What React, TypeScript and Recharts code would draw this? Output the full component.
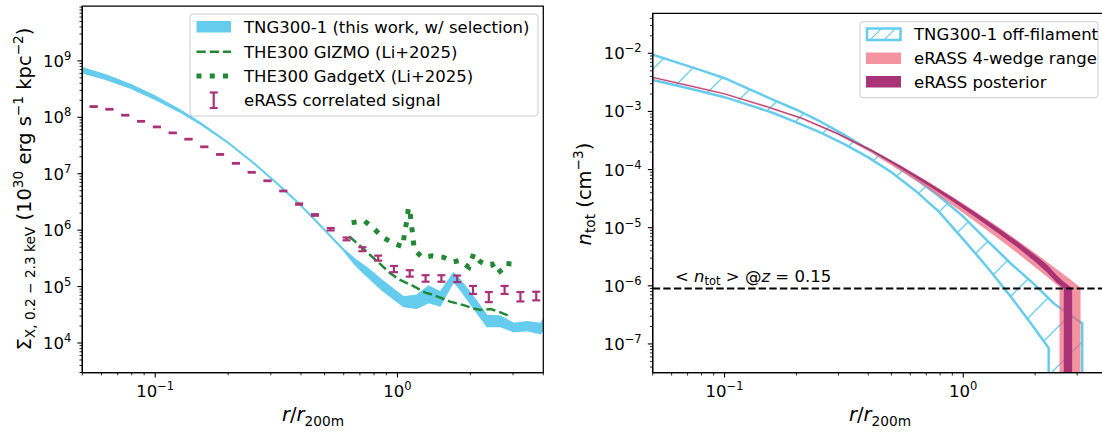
import React from 'react';
import {
  ComposedChart, XAxis, YAxis, Area, Line, Scatter, ErrorBar, ReferenceLine, ReferenceArea,
} from 'recharts';

const FONT = "'DejaVu Sans', 'Liberation Sans', sans-serif";
const BLUE = '#66CCEE';
const GREEN = '#228833';
const PINK = '#EE6677';
const PURPLE = '#AA3377';
const FLOOR = 1e-9; // value below the visible range, used where a band drops off the axis

// ---------------- Left panel: X-ray surface brightness ----------------
const tngSelR = [0.05, 0.0625, 0.0794, 0.1, 0.126, 0.153, 0.2, 0.251, 0.316, 0.395, 0.5, 0.6, 0.668, 0.75, 0.862, 1.059, 1.203, 1.344, 1.502, 1.705, 1.818, 2.063, 2.344, 2.662, 3.02, 3.43, 3.9, 4.02];
const tngSelLo = [6.1e8, 4.7e8, 3.24e8, 2.08e8, 1.25e8, 7.6e7, 3.46e7, 1.59e7, 6.8e6, 2.82e6, 9.8e5, 4.3e5, 2.42e5, 1.5e5, 8.7e4, 4.4e4, 4.1e4, 5.2e4, 4.5e4, 1.22e5, 8.7e4, 4.1e4, 1.95e4, 1.95e4, 1.58e4, 1.65e4, 1.45e4, 1.82e4];
const tngSelHi = [7.6e8, 5.65e8, 3.8e8, 2.39e8, 1.38e8, 8.15e7, 3.62e7, 1.67e7, 7.1e6, 2.95e6, 1.04e6, 4.6e5, 3.08e5, 2.15e5, 1.31e5, 6.6e4, 7.1e4, 1.03e5, 8.1e4, 1.76e5, 1.31e5, 6.6e4, 3.1e4, 3.0e4, 2.23e4, 2.39e4, 2.23e4, 2.74e4];

const gizmoR = [0.633, 0.7, 0.771, 0.85, 0.933, 1.026, 1.165, 1.302, 1.41, 1.652, 1.876, 2.063, 2.2, 2.42, 2.66, 2.93];
const gizmoS = [7.7e5, 5.3e5, 3.63e5, 2.5e5, 1.72e5, 1.31e5, 1.02e5, 7.8e4, 7.1e4, 5.4e4, 4.7e4, 4.1e4, 3.85e4, 4.0e4, 3.5e4, 2.95e4];

const gadgetR = [0.647, 0.73, 0.796, 0.87, 0.957, 1.053, 1.069, 1.094, 1.11, 1.125, 1.14, 1.158, 1.172, 1.262, 1.392, 1.55, 1.705, 1.805, 1.97, 2.063, 2.2, 2.34, 2.46, 2.58, 2.75, 2.88, 2.9];
const gadgetS = [1.36e6, 1.46e6, 1.08e6, 7.5e5, 5.9e5, 5.1e5, 8.8e5, 1.48e6, 2.5e6, 2.3e6, 1.32e6, 7.9e5, 4.6e5, 3.3e5, 3.5e5, 3.3e5, 2.75e5, 2.9e5, 2.2e5, 3.8e5, 2.75e5, 2.4e5, 2.5e5, 1.72e5, 2.1e5, 2.2e5, 3.6e5];

const erassR = [0.0557, 0.0647, 0.0752, 0.0874, 0.1016, 0.1181, 0.1372, 0.1594, 0.1853, 0.2153, 0.2502, 0.2908, 0.3379, 0.3927, 0.4564, 0.5304, 0.6164, 0.7164, 0.8325, 0.9674, 1.124, 1.3066, 1.5184, 1.7645, 2.0506, 2.383, 2.769, 3.218, 3.74];
const erassS = [1.55e8, 1.39e8, 1.09e8, 8.5e7, 6.76e7, 5.3e7, 4.1e7, 3.0e7, 2.2e7, 1.53e7, 1.06e7, 7.5e6, 4.95e6, 2.9e6, 1.86e6, 1.04e6, 7.0e5, 4.6e5, 3.2e5, 2.05e5, 1.72e5, 1.4e5, 1.4e5, 1.38e5, 8.7e4, 6.5e4, 8.7e4, 6.6e4, 6.8e4];
const erassErrLo = [1.9e6, 1.7e6, 1.3e6, 1.0e6, 8e5, 6.4e5, 4.9e5, 3.6e5, 2.6e5, 1.8e5, 1.3e5, 9e4, 6e4, 7e4, 6e4, 5e4, 4e4, 3.6e4, 3.2e4, 2.5e4, 2.2e4, 1.8e4, 1.8e4, 1.8e4, 1.3e4, 1.2e4, 1.3e4, 1.15e4, 1.1e4];
const erassErrHi = [1.9e6, 1.7e6, 1.3e6, 1.0e6, 8e5, 6.4e5, 4.9e5, 3.6e5, 2.6e5, 1.8e5, 1.3e5, 9e4, 6e4, 7e4, 6e4, 5e4, 4e4, 3.8e4, 3.4e4, 2.7e4, 2.3e4, 1.9e4, 1.9e4, 1.9e4, 1.55e4, 1.5e4, 1.55e4, 1.4e4, 1.3e4];

// ---------------- Right panel: density ----------------
const offFilR = [0.05, 0.063, 0.0794, 0.1, 0.126, 0.16, 0.2, 0.25, 0.316, 0.4, 0.5, 0.63, 0.79, 1.0, 1.26, 1.585, 1.995, 2.279, 2.279, 2.392, 3.15, 3.15];
const offFilLo = [3.47e-3, 2.79e-3, 2.23e-3, 1.76e-3, 1.3e-3, 9.4e-4, 6.5e-4, 4.39e-4, 2.77e-4, 1.62e-4, 9.0e-5, 4.34e-5, 1.89e-5, 6.3e-6, 2.09e-6, 6.45e-7, 1.82e-7, 8.5e-8, FLOOR, FLOOR, FLOOR, FLOOR];
const offFilHi = [9.5e-3, 7.0e-3, 5.15e-3, 3.73e-3, 2.45e-3, 1.58e-3, 1.07e-3, 6.84e-4, 3.98e-4, 2.24e-4, 1.34e-4, 7.0e-5, 3.5e-5, 1.55e-5, 6.0e-6, 2.4e-6, 1.04e-6, 6.07e-7, 6.07e-7, 4.98e-7, 2.25e-7, FLOOR];

const wedgeR = [0.05, 0.0762, 0.1, 0.15, 0.211, 0.296, 0.414, 0.55, 0.701, 0.9, 1.1, 1.4, 1.678, 2.0, 2.244, 2.53, 2.53, 2.75, 3.1, 3.1];
const wedgeLo = [3.72e-3, 2.5e-3, 1.93e-3, 1.16e-3, 7.3e-4, 4.0e-4, 1.92e-4, 9.3e-5, 4.89e-5, 2.43e-5, 1.35e-5, 6.52e-6, 3.69e-6, 2.09e-6, 1.43e-6, 9.5e-7, FLOOR, FLOOR, FLOOR, FLOOR];
const wedgeHi = [4.0e-3, 2.7e-3, 2.07e-3, 1.26e-3, 7.9e-4, 4.4e-4, 2.22e-4, 1.16e-4, 6.48e-5, 3.44e-5, 2.02e-5, 1.035e-5, 6.15e-6, 3.66e-6, 2.58e-6, 1.78e-6, 1.78e-6, 1.37e-6, 9.3e-7, FLOOR];

const postR = [0.05, 0.1, 0.15, 0.211, 0.296, 0.414, 0.55, 0.701, 0.9, 1.1, 1.4, 1.678, 2.0, 2.244, 2.47, 2.636, 2.636, 2.858, 2.858];
const postLo = [3.8e-3, 1.97e-3, 1.19e-3, 7.45e-4, 4.1e-4, 2.05e-4, 1.03e-4, 5.55e-5, 2.84e-5, 1.62e-5, 8.0e-6, 4.65e-6, 2.6e-6, 1.7e-6, 1.12e-6, 9.1e-7, FLOOR, FLOOR, FLOOR];
const postHi = [3.92e-3, 2.03e-3, 1.23e-3, 7.75e-4, 4.3e-4, 2.19e-4, 1.14e-4, 6.3e-5, 3.32e-5, 1.94e-5, 9.9e-6, 5.85e-6, 3.4e-6, 2.3e-6, 1.5e-6, 1.18e-6, 1.18e-6, 9.1e-7, FLOOR];

const meanDensity = 9.0e-7;

// ---------------- Axes ----------------
const xDomain: [number, number] = [0.05, 4];
const leftYDomain: [number, number] = [3000, 9.4e9];
const rightYDomain: [number, number] = [3.2e-8, 4.88e-2];
const xTicks = [0.05, 0.06, 0.07, 0.08, 0.09, 0.1, 0.2, 0.3, 0.4, 0.5, 0.6, 0.7, 0.8, 0.9, 1, 2, 3, 4];
const leftDecades = [1e3, 1e4, 1e5, 1e6, 1e7, 1e8, 1e9];
const rightDecades = [1e-8, 1e-7, 1e-6, 1e-5, 1e-4, 1e-3, 1e-2];
const multipliers = [1, 2, 3, 4, 5, 6, 7, 8, 9];

const logTicks = (decades: number[], dom: [number, number]) => {
  const out: number[] = [];
  decades.forEach((d) => multipliers.forEach((m) => {
    const v = Number((d * m).toPrecision(6));
    if (v >= dom[0] * 0.999 && v <= dom[1] * 1.001) out.push(v);
  }));
  return out;
};
const leftYTicks = logTicks(leftDecades, leftYDomain);
const rightYTicks = logTicks(rightDecades, rightYDomain);

const isMajor = (v: number) => {
  const l = Math.log10(v);
  return Math.abs(l - Math.round(l)) < 1e-6;
};
const expStr = (v: number) => {
  const e = Math.round(Math.log10(v));
  return e < 0 ? '\u2212' + String(-e) : String(e);
};

const XTick = (props: any) => {
  const { x, y, payload } = props;
  const v = payload.value;
  const M = isMajor(v);
  return (
    <g>
      <line x1={x} x2={x} y1={y} y2={y + (M ? 4.9 : 2.8)} stroke="#000" strokeWidth={M ? 1.1 : 0.85} />
      {M && (
        <text x={x} y={y + 24.5} textAnchor="middle" fontFamily={FONT} fontSize={16.5} fill="#000">
          10<tspan dy={-7} fontSize={11.5}>{expStr(v)}</tspan>
        </text>
      )}
    </g>
  );
};

const YTick = (props: any) => {
  const { x, y, payload } = props;
  const v = payload.value;
  const M = isMajor(v);
  return (
    <g>
      <line x1={x} x2={x - (M ? 4.9 : 2.8)} y1={y} y2={y} stroke="#000" strokeWidth={M ? 1.1 : 0.85} />
      {M && (
        <text x={x - 11} y={y + 6} textAnchor="end" fontFamily={FONT} fontSize={16.5} fill="#000">
          10<tspan dy={-7} fontSize={11.5}>{expStr(v)}</tspan>
        </text>
      )}
    </g>
  );
};

const band = (d: any) => [d.lo, d.hi];

const tngSelRows = tngSelR.map((r, i) => ({ x: r, lo: tngSelLo[i], hi: tngSelHi[i] }));
const gizmoRows = gizmoR.map((r, i) => ({ x: r, y: gizmoS[i] }));
const gadgetRows = gadgetR.map((r, i) => ({ x: r, y: gadgetS[i] }));
const erassRows = erassR.map((r, i) => ({ x: r, y: erassS[i], err: [erassErrLo[i], erassErrHi[i]] }));
const offFilRows = offFilR.map((r, i) => ({ x: r, lo: offFilLo[i], hi: offFilHi[i] }));
const wedgeRows = wedgeR.map((r, i) => ({ x: r, lo: wedgeLo[i], hi: wedgeHi[i] }));
const postRows = postR.map((r, i) => ({ x: r, lo: postLo[i], hi: postHi[i] }));

const NoShape = () => <g />;

const LeftChart = () => (
  <ComposedChart width={560} height={432} margin={{ top: 6, right: 16.7, bottom: 0, left: 0 }}>
    <XAxis dataKey="x" type="number" scale="log" domain={xDomain} allowDataOverflow ticks={xTicks} interval={0}
      tickSize={0} tickMargin={0} tickLine={false} tick={<XTick />} axisLine={{ stroke: '#000', strokeWidth: 1.25 }} height={59.5} />
    <YAxis type="number" scale="log" domain={leftYDomain} allowDataOverflow ticks={leftYTicks} interval={0}
      tickSize={0} tickMargin={0} tickLine={false} tick={<YTick />} axisLine={{ stroke: '#000', strokeWidth: 1.25 }} width={82.3} />
    <Area data={tngSelRows} dataKey={band} type="linear" fill={BLUE} fillOpacity={1} stroke={BLUE} strokeWidth={1.2}
      isAnimationActive={false} dot={false} activeDot={false} />
    <Line data={gizmoRows} dataKey="y" type="linear" stroke={GREEN} strokeWidth={2.5} strokeDasharray="9.25 4"
      dot={false} activeDot={false} isAnimationActive={false} />
    <Line data={gadgetRows} dataKey="y" type="linear" stroke={GREEN} strokeWidth={5} strokeDasharray="5 8.25"
      strokeLinecap="butt" dot={false} activeDot={false} isAnimationActive={false} />
    <Scatter data={erassRows} dataKey="y" fill={PURPLE} shape={<NoShape />} isAnimationActive={false}>
      <ErrorBar dataKey="err" direction="y" width={4} strokeWidth={2.2} stroke={PURPLE} isAnimationActive={false} />
    </Scatter>
    <ReferenceArea x1={xDomain[0]} x2={xDomain[1]} y1={leftYDomain[0]} y2={leftYDomain[1]} fill="none" fillOpacity={0}
      stroke="#000" strokeWidth={1.25} />
  </ComposedChart>
);

const RightChart = () => (
  <ComposedChart width={560} height={432} margin={{ top: 13.3, right: 13, bottom: 0, left: 0 }}>
    <defs>
      <pattern id="hatchR" patternUnits="userSpaceOnUse" width={39} height={39} patternTransform="translate(6,0)">
        <path d="M-2,41 L41,-2 M-2,2 L2,-2 M37,41 L41,37" stroke={BLUE} strokeWidth={1.3} fill="none" />
      </pattern>
    </defs>
    <XAxis dataKey="x" type="number" scale="log" domain={xDomain} allowDataOverflow ticks={xTicks} interval={0}
      tickSize={0} tickMargin={0} tickLine={false} tick={<XTick />} axisLine={{ stroke: '#000', strokeWidth: 1.25 }} height={59.3} />
    <YAxis type="number" scale="log" domain={rightYDomain} allowDataOverflow ticks={rightYTicks} interval={0}
      tickSize={0} tickMargin={0} tickLine={false} tick={<YTick />} axisLine={{ stroke: '#000', strokeWidth: 1.25 }} width={92.7} />
    <Area data={offFilRows} dataKey={band} type="linear" fill="url(#hatchR)" fillOpacity={1} stroke={BLUE} strokeWidth={2.5}
      isAnimationActive={false} dot={false} activeDot={false} />
    <Area data={wedgeRows} dataKey={band} type="linear" fill={PINK} fillOpacity={0.7} stroke="none"
      isAnimationActive={false} dot={false} activeDot={false} />
    <Area data={postRows} dataKey={band} type="linear" fill={PURPLE} fillOpacity={1} stroke="none"
      isAnimationActive={false} dot={false} activeDot={false} />
    <ReferenceLine y={meanDensity} stroke="#000" strokeWidth={2} strokeDasharray="7.4 3.2" ifOverflow="visible" />
    <ReferenceArea x1={xDomain[0]} x2={xDomain[1]} y1={rightYDomain[0]} y2={rightYDomain[1]} fill="none" fillOpacity={0}
      stroke="#000" strokeWidth={1.25} />
  </ComposedChart>
);

const Overlay = () => (
  <svg width={1102} height={432} style={{ position: 'absolute', left: 0, top: 0, pointerEvents: 'none' }}
    fontFamily={FONT}>
    <defs>
      <pattern id="hatchLeg" patternUnits="userSpaceOnUse" width={14} height={14}>
        <path d="M-2,16 L16,-2 M-2,2 L2,-2 M12,16 L16,12" stroke={BLUE} strokeWidth={1.2} fill="none" />
      </pattern>
    </defs>
    {/* Left axis titles */}
    <text transform="translate(31,189) rotate(-90)" textAnchor="middle" fontSize={19.5} fill="#000">
      Σ<tspan fontSize={13.7} dy={4}>X, 0.2 − 2.3 keV</tspan>
      <tspan dy={-4}> (10</tspan><tspan fontSize={13.7} dy={-8}>30</tspan>
      <tspan dy={8}> erg s</tspan><tspan fontSize={13.7} dy={-8}>−1</tspan>
      <tspan dy={8}> kpc</tspan><tspan fontSize={13.7} dy={-8}>−2</tspan>
      <tspan dy={8}>)</tspan>
    </text>
    <text x={313} y={421} textAnchor="middle" fontSize={19.5} fill="#000">
      <tspan fontStyle="italic">r</tspan>/<tspan fontStyle="italic">r</tspan><tspan fontSize={13.7} dy={5}>200m</tspan>
    </text>
    {/* Right axis titles */}
    <text transform="translate(591,194) rotate(-90)" textAnchor="middle" fontSize={19.5} fill="#000">
      <tspan fontStyle="italic">n</tspan><tspan fontSize={13.7} dy={4}>tot</tspan>
      <tspan dy={-4}> (cm</tspan><tspan fontSize={13.7} dy={-8}>−3</tspan><tspan dy={8}>)</tspan>
    </text>
    <text x={880} y={421} textAnchor="middle" fontSize={19.5} fill="#000">
      <tspan fontStyle="italic">r</tspan>/<tspan fontStyle="italic">r</tspan><tspan fontSize={13.7} dy={5}>200m</tspan>
    </text>
    <text x={675} y={281.7} fontSize={16.5} fill="#000">
      {'< '}<tspan fontStyle="italic">n</tspan><tspan fontSize={11.5} dy={3.5}>tot</tspan>
      <tspan dy={-3.5}>{' > @'}</tspan><tspan fontStyle="italic">z</tspan>{' = 0.15'}
    </text>

    {/* Left legend */}
    <rect x={190} y={14} width={348} height={102} rx={3} fill="#fff" fillOpacity={0.8} stroke="#cccccc" strokeWidth={1} />
    <rect x={196.5} y={21} width={34.5} height={11.5} fill={BLUE} />
    <line x1={196.5} x2={231} y1={51.7} y2={51.7} stroke={GREEN} strokeWidth={2.5} strokeDasharray="9.25 4" />
    <line x1={196.5} x2={231} y1={76} y2={76} stroke={GREEN} strokeWidth={5} strokeDasharray="5 8.25" />
    <line x1={213.7} x2={213.7} y1={92.5} y2={108} stroke={PURPLE} strokeWidth={2.2} />
    <line x1={209.7} x2={217.7} y1={92.5} y2={92.5} stroke={PURPLE} strokeWidth={2.2} />
    <line x1={209.7} x2={217.7} y1={108} y2={108} stroke={PURPLE} strokeWidth={2.2} />
    <text x={244} y={32.7} fontSize={16.5} fill="#000">TNG300-1 (this work, w/ selection)</text>
    <text x={244} y={57.7} fontSize={16.5} fill="#000">THE300 GIZMO (Li+2025)</text>
    <text x={244} y={82} fontSize={16.5} fill="#000">THE300 GadgetX (Li+2025)</text>
    <text x={244} y={106} fontSize={16.5} fill="#000">eRASS correlated signal</text>

    {/* Right legend */}
    <rect x={860} y={21.7} width={238} height={76} rx={3} fill="#fff" fillOpacity={0.8} stroke="#cccccc" strokeWidth={1} />
    <rect x={867} y={28.5} width={33.5} height={11.5} fill="url(#hatchLeg)" stroke={BLUE} strokeWidth={2.5} />
    <rect x={866} y={52.5} width={35} height={11.5} fill={PINK} fillOpacity={0.7} />
    <rect x={866} y={76} width={35} height={11.5} fill={PURPLE} />
    <text x={914} y={40.3} fontSize={16.5} fill="#000">TNG300-1 off-filament</text>
    <text x={914} y={64.3} fontSize={16.5} fill="#000">eRASS 4-wedge range</text>
    <text x={914} y={87.7} fontSize={16.5} fill="#000">eRASS posterior</text>
  </svg>
);

export default function App() {
  return (
    <div style={{ position: 'absolute', left: 0, top: 0, width: 1102, height: 432, overflow: 'hidden', background: '#fff' }}>
      <div style={{ position: 'absolute', left: 0, top: 0 }}>
        <LeftChart />
      </div>
      <div style={{ position: 'absolute', left: 560, top: 0 }}>
        <RightChart />
      </div>
      <Overlay />
    </div>
  );
}
